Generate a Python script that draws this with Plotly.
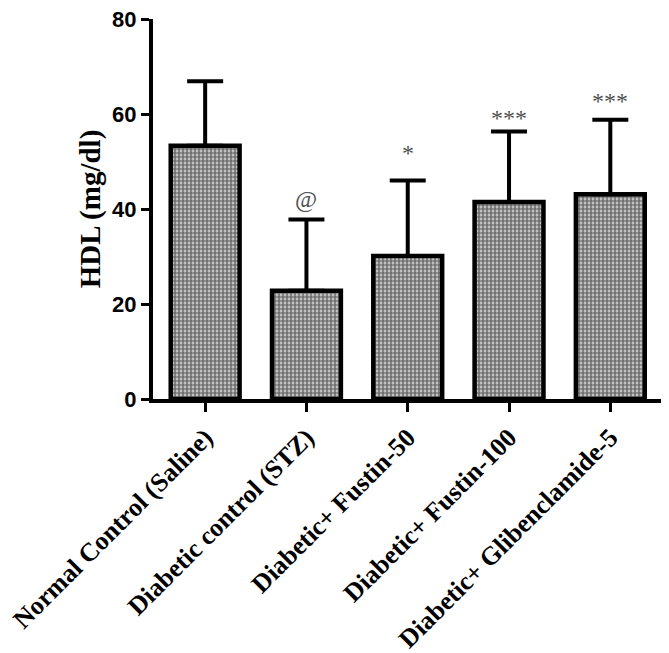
import plotly.graph_objects as go

groups = [
    "Normal Control (Saline)",
    "Diabetic control (STZ)",
    "Diabetic+ Fustin-50",
    "Diabetic+ Fustin-100",
    "Diabetic+ Glibenclamide-5",
]
hdl_mean = [53.3, 22.8, 30.1, 41.5, 43.1]
hdl_sd = [13.6, 15.0, 15.9, 14.8, 15.7]
signif = ["", "@", "*", "***", "***"]

serif = "Liberation Serif"
sans = "Liberation Sans"

fig = go.Figure()

fig.add_trace(go.Bar(
    x=list(range(len(groups))),
    y=hdl_mean,
    width=0.68,
    marker=dict(
        color="white",
        line=dict(color="black", width=4.5),
        pattern=dict(shape=".", fgcolor="black", bgcolor="#e0e0e0",
                     size=4, solidity=0.7),
    ),
    error_y=dict(type="data", symmetric=False, array=hdl_sd,
                 arrayminus=[0] * len(hdl_sd),
                 color="black", thickness=4, width=18),
    showlegend=False,
))

# significance marks above the error bars
shifts = [0, 20, 28, 14, 19]
for i, s in enumerate(signif):
    if not s:
        continue
    fig.add_annotation(
        x=i, y=hdl_mean[i] + hdl_sd[i], text=s, showarrow=False,
        yshift=shifts[i], xref="x", yref="y",
        font=dict(family=serif, size=24, color="#505050"),
    )

# page body adds an 8px offset, so margins are trimmed to match
fig.update_layout(
    width=669, height=653,
    margin=dict(l=145, r=13, t=11, b=262),
    plot_bgcolor="white", paper_bgcolor="white",
)

fig.update_xaxes(
    range=[-0.515, 4.53],
    tickmode="array",
    tickvals=list(range(len(groups))),
    ticktext=groups,
    tickangle=-45,
    tickfont=dict(family=serif, size=26, color="black", weight="bold"),
    ticklabeloverflow="allow",
    showline=True, linewidth=4, linecolor="black",
    ticks="outside", ticklen=9, tickwidth=3, tickcolor="black",
    showgrid=False, zeroline=False, automargin=False,
)

fig.update_yaxes(
    range=[0, 80],
    tickvals=[0, 20, 40, 60, 80],
    tickfont=dict(family=sans, size=22, color="black", weight="bold"),
    ticklabeloverflow="allow",
    showline=True, linewidth=4, linecolor="black",
    ticks="outside", ticklen=8, tickwidth=3, tickcolor="black",
    showgrid=False, zeroline=False, automargin=False,
    title=dict(text="HDL (mg/dl)", standoff=4,
               font=dict(family=serif, size=29, color="black", weight="bold")),
)

fig.write_html("out.html")
